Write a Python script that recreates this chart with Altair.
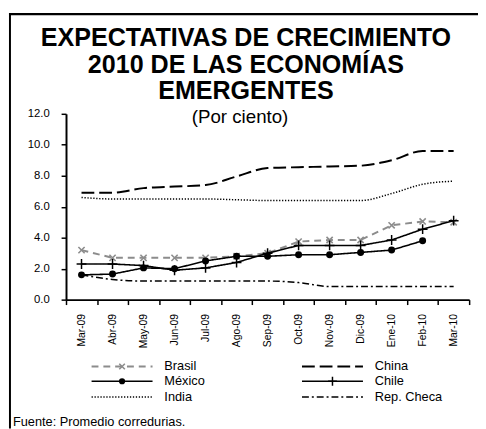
import altair as alt
import pandas as pd

months = ["Mar-09", "Abr-09", "May-09", "Jun-09", "Jul-09", "Ago-09", "Sep-09",
          "Oct-09", "Nov-09", "Dic-09", "Ene-10", "Feb-10", "Mar-10"]
brasil = [3.2, 2.7, 2.7, 2.7, 2.7, 2.8, 3.0, 3.75, 3.85, 3.85, 4.8, 5.05, 5.0]
china = [6.9, 6.9, 7.2, 7.3, 7.4, 7.95, 8.5, 8.55, 8.6, 8.65, 9.0, 9.6, 9.6]
mexico = [1.6, 1.65, 2.05, 2.0, 2.5, 2.8, 2.8, 2.9, 2.9, 3.05, 3.2, 3.8, None]
chile = [2.3, 2.3, 2.2, 1.9, 2.05, 2.4, 3.0, 3.5, 3.5, 3.5, 3.85, 4.55, 5.1]
india = [6.6, 6.5, 6.5, 6.5, 6.5, 6.45, 6.4, 6.4, 6.4, 6.4, 6.85, 7.45, 7.65]
rep_checa = [1.6, 1.3, 1.2, 1.2, 1.2, 1.2, 1.2, 1.1, 0.85, 0.85, 0.85, 0.85, 0.85]
y_ticks = [0, 2, 4, 6, 8, 10, 12]

title_lines = ["EXPECTATIVAS DE CRECIMIENTO", "2010 DE LAS ECONOMÍAS", "EMERGENTES"]
subtitle = "(Por ciento)"
source = "Fuente: Promedio corredurias."

series = {
    "Brasil": brasil,
    "China": china,
    "México": mexico,
    "Chile": chile,
    "India": india,
    "Rep. Checa": rep_checa,
}
legend_order = ["Brasil", "China", "México", "Chile", "India", "Rep. Checa"]

FONT = "Liberation Sans"
X_PATH = "M-1,-1L1,1M-1,1L1,-1"
PLUS_PATH = "M-1,0L1,0M0,-1L0,1"

styles = {
    "Brasil": dict(color="#8c8c8c", dash=[7, 5], width=2, interp="linear", marker="x"),
    "China": dict(color="black", dash=[13, 5], width=2, interp="monotone", marker=None),
    "México": dict(color="black", dash=[1, 0], width=1.6, interp="linear", marker="circle"),
    "Chile": dict(color="black", dash=[1, 0], width=1.6, interp="linear", marker="plus"),
    "India": dict(color="black", dash=[1.3, 1.7], width=1.5, interp="monotone", marker=None),
    "Rep. Checa": dict(color="black", dash=[7, 3, 2, 3], width=1.5, interp="monotone", marker=None),
}

rows = []
for name, vals in series.items():
    for m, v in zip(months, vals):
        if v is not None:
            rows.append({"series": name, "month": m, "value": v})
df = pd.DataFrame(rows)

X = alt.X(
    "month:N", sort=months, bandPosition=0.5,
    scale=alt.Scale(type="band", domain=months, paddingInner=0, paddingOuter=0),
    axis=alt.Axis(title=None, labelAngle=270, labelAlign="right", labelBaseline="middle",
                  labelFontSize=10.5, labelColor="black", labelFont=FONT, labelPadding=9,
                  tickBand="extent", tickSize=5, tickColor="black", tickWidth=1.5,
                  domainColor="black", domainWidth=2, grid=False),
)
Y = alt.Y(
    "value:Q",
    scale=alt.Scale(domain=[0, 12], nice=False, zero=True),
    axis=alt.Axis(title=None, values=y_ticks, format=".1f", labelFontSize=11.5,
                  labelColor="black", labelFont=FONT, labelPadding=12,
                  tickSize=5, tickColor="black", tickWidth=1.5,
                  domainColor="black", domainWidth=2, grid=False),
)


def marker_mark(kind, color, size_scale=1.0):
    if kind == "circle":
        return dict(shape="circle", filled=True, size=50 * size_scale, color=color, opacity=1)
    if kind == "x":
        return dict(shape=X_PATH, filled=False, size=40 * size_scale, color=color,
                    strokeWidth=1.6, opacity=1)
    return dict(shape=PLUS_PATH, filled=False, size=100 * size_scale, color=color,
                strokeWidth=1.5, opacity=1)


layers = []

# Outer frame (left and top edges; the rest lies outside the window)
layers.append(
    alt.Chart(pd.DataFrame({"edge": ["left"]})).mark_rect(color="black", opacity=1)
    .encode(x=alt.value(-58), x2=alt.value(-56), y=alt.value(-102.5), y2=alt.value(320))
)
layers.append(
    alt.Chart(pd.DataFrame({"edge": ["top"]})).mark_rect(color="black", opacity=1)
    .encode(x=alt.value(-58), x2=alt.value(419), y=alt.value(-102.5), y2=alt.value(-100.3))
)

draw_order = ["India", "China", "Rep. Checa", "Brasil", "México", "Chile"]
for name in draw_order:
    st = styles[name]
    sub = df[df.series == name]
    layers.append(
        alt.Chart(sub).mark_line(color=st["color"], strokeDash=st["dash"],
                                 strokeWidth=st["width"], interpolate=st["interp"])
        .encode(x=X, y=Y)
    )
    if st["marker"]:
        layers.append(
            alt.Chart(sub).mark_point(**marker_mark(st["marker"], st["color"])).encode(x=X, y=Y)
        )

# Title (three lines) and subtitle
layers.append(
    alt.Chart(pd.DataFrame({"t": [title_lines[0]]})).mark_text(
        text=title_lines, font=FONT, fontSize=25.5, fontWeight="bold", lineHeight=27,
        align="center", baseline="middle", color="black"
    ).encode(x=alt.value(183), y=alt.value(-77))
)
layers.append(
    alt.Chart(pd.DataFrame({"t": [subtitle]})).mark_text(
        font=FONT, fontSize=19, align="center", baseline="middle", color="black"
    ).encode(x=alt.value(177), y=alt.value(3), text="t:N")
)

# Custom legend (two columns, three rows)
col_x = [26, 240]
row_y = [257, 272, 288]
sym_len = 62
for i, name in enumerate(legend_order):
    st = styles[name]
    cx = col_x[i % 2]
    ry = row_y[i // 2]
    ldf = pd.DataFrame({"series": [name]})
    layers.append(
        alt.Chart(ldf).mark_rule(color=st["color"], strokeDash=st["dash"],
                                 strokeWidth=st["width"])
        .encode(x=alt.value(cx), x2=alt.value(cx + sym_len), y=alt.value(ry))
    )
    if st["marker"]:
        layers.append(
            alt.Chart(ldf).mark_point(**marker_mark(st["marker"], st["color"], 0.8))
            .encode(x=alt.value(cx + sym_len / 2), y=alt.value(ry))
        )
    layers.append(
        alt.Chart(ldf).mark_text(font=FONT, fontSize=13, align="left", baseline="middle",
                                 color="black")
        .encode(x=alt.value(cx + sym_len + 12), y=alt.value(ry), text="series:N")
    )

# Source note
layers.append(
    alt.Chart(pd.DataFrame({"t": [source]})).mark_text(
        font=FONT, fontSize=13, align="left", baseline="middle", color="black"
    ).encode(x=alt.value(-54), y=alt.value(313), text="t:N")
)

chart = alt.layer(*layers).properties(
    width=410, height=189,
    autosize=alt.AutoSizeParams(type="none"),
    padding={"left": 59, "top": 104, "right": 9, "bottom": 131},
    background="white",
).configure_view(stroke=None)

chart.save("out.html", embed_options={"renderer": "svg", "actions": False})
